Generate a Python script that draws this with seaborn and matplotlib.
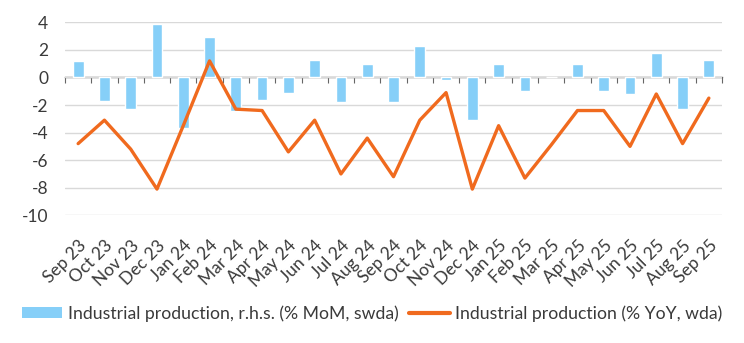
import numpy as np
import pandas as pd
import matplotlib
matplotlib.use("Agg")
import matplotlib.pyplot as plt
import seaborn as sns
from matplotlib.patches import Patch
from matplotlib.lines import Line2D

# Monthly industrial production, Sep 2023 - Sep 2025
months = ["Sep 23", "Oct 23", "Nov 23", "Dec 23", "Jan 24", "Feb 24", "Mar 24",
          "Apr 24", "May 24", "Jun 24", "Jul 24", "Aug 24", "Sep 24", "Oct 24",
          "Nov 24", "Dec 24", "Jan 25", "Feb 25", "Mar 25", "Apr 25", "May 25",
          "Jun 25", "Jul 25", "Aug 25", "Sep 25"]
mom = [1.2, -1.7, -2.3, 3.9, -3.7, 2.9, -2.4,
       -1.6, -1.1, 1.3, -1.8, 1.0, -1.8, 2.3,
       -0.2, -3.1, 1.0, -1.0, 0.0, 1.0, -1.0,
       -1.2, 1.8, -2.3, 1.3]
yoy = [-4.8, -3.1, -5.2, -8.1, -3.5, 1.2, -2.3,
       -2.4, -5.4, -3.1, -7.0, -4.4, -7.2, -3.1,
       -1.1, -8.1, -3.5, -7.3, -4.9, -2.4, -2.4,
       -5.0, -1.2, -4.8, -1.5]
yticks = [-10, -8, -6, -4, -2, 0, 2, 4]

mom_label = "Industrial production, r.h.s. (% MoM, swda)"
yoy_label = "Industrial production (% YoY, wda)"

BAR = "#86CFF8"
LINE = "#F06A1E"
TEXT = "#3a3a3a"

sns.set_theme(style="white")
plt.rcParams["font.family"] = ["Lato", "DejaVu Sans"]
plt.rcParams["axes.unicode_minus"] = False

df = pd.DataFrame({"month": months, "mom": mom, "yoy": yoy,
                   "pos": np.arange(len(months))})

fig = plt.figure(figsize=(7.44, 3.43), dpi=100)
ax = fig.add_axes([65 / 744, 1 - 215.3 / 343, 657 / 744, 193 / 343])

sns.barplot(data=df, x="month", y="mom", order=months, color=BAR,
            saturation=1, width=0.41, ax=ax, zorder=2)
sns.lineplot(data=df, x="pos", y="yoy", color=LINE, lw=2.4, ax=ax, zorder=3)

ax.set_xlim(-0.5, len(months) - 0.5)
ax.set_ylim(-10, 4)
ax.set_yticks(yticks)
ax.set_yticklabels([str(v) for v in yticks])
ax.yaxis.grid(True, color="#d9d9d9", lw=1)
ax.set_axisbelow(True)
for s in ax.spines.values():
    s.set_visible(False)
ax.set_xlabel("")
ax.set_ylabel("")

ax.set_xticks(np.arange(len(months)))
ax.set_xticklabels(months, rotation=45, ha="right", rotation_mode="anchor")
ax.tick_params(axis="x", length=0, pad=16, labelsize=12.5, labelcolor=TEXT)
ax.tick_params(axis="y", length=0, pad=12, labelsize=12.5, labelcolor=TEXT)

# zero axis with category-boundary tick marks
zero_ax = ax.secondary_xaxis(0, transform=ax.transData)
zero_ax.set_xticks(np.arange(-0.5, len(months), 1.0))
zero_ax.tick_params(axis="x", length=4, width=0.8, color="#666666",
                    labelbottom=False, direction="out")
zero_ax.spines["bottom"].set_color("#666666")
zero_ax.spines["bottom"].set_linewidth(1.0)

handles = [Patch(facecolor=BAR, edgecolor="none", label=mom_label),
           Line2D([], [], color=LINE, lw=3, label=yoy_label)]
leg = fig.legend(handles=handles, loc="center", bbox_to_anchor=(0.5, 1 - 313.5 / 343),
                 ncol=2, frameon=False, handlelength=2.3, handleheight=0.6,
                 handletextpad=0.3, columnspacing=0.6, fontsize=12.7)
for t in leg.get_texts():
    t.set_color(TEXT)

fig.savefig("out.png", dpi=100)
